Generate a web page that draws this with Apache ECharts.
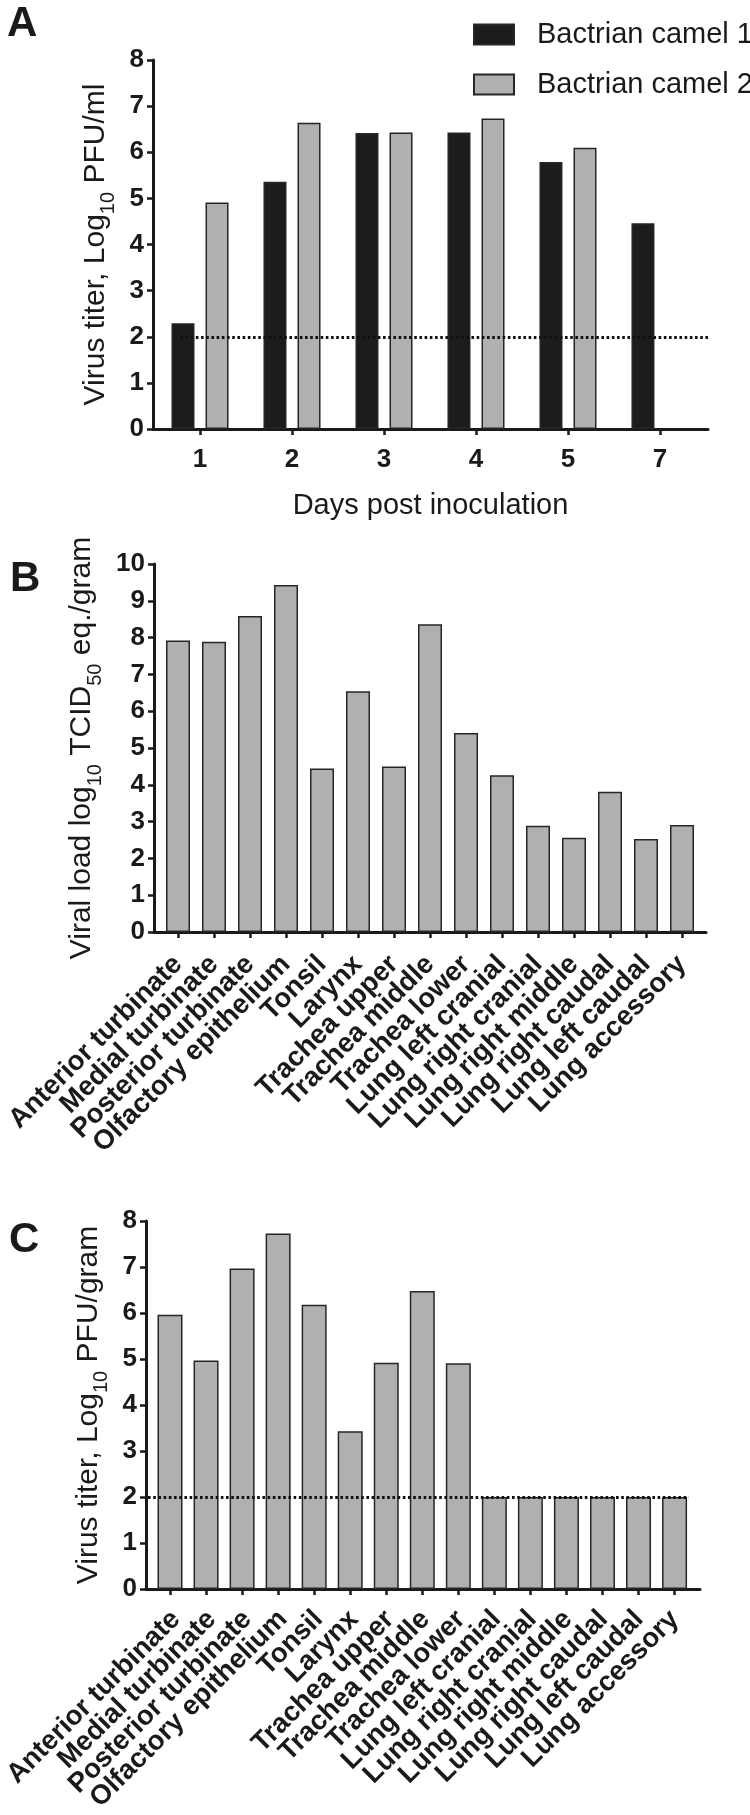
<!DOCTYPE html>
<html><head><meta charset="utf-8">
<script src="https://cdn.jsdelivr.net/npm/echarts@6/dist/echarts.min.js"></script>
<style>html,body{margin:0;padding:0;background:#fff}#c{width:750px;height:1815px}</style>
</head><body><div id="c"></div>
<script>
// ---- data ----
const days = ['1', '2', '3', '4', '5', '7'];
const camel1 = [2.29, 5.36, 6.42, 6.43, 5.79, 4.46];
const camel2 = [4.91, 6.64, 6.43, 6.73, 6.10, null];
const tissues = ['Anterior turbinate', 'Medial turbinate', 'Posterior turbinate', 'Olfactory epithelium',
  'Tonsil', 'Larynx', 'Trachea upper', 'Trachea middle', 'Trachea lower', 'Lung left cranial',
  'Lung right cranial', 'Lung right middle', 'Lung right caudal', 'Lung left caudal', 'Lung accessory'];
const viralLoadB = [7.92, 7.89, 8.59, 9.43, 4.44, 6.54, 4.50, 8.36, 5.41, 4.26, 2.89, 2.56, 3.81, 2.53, 2.91];
const titerC = [5.96, 4.97, 6.97, 7.73, 6.18, 3.43, 4.92, 6.48, 4.91, 2.0, 2.0, 2.0, 2.0, 2.0, 2.0];
const detectionLimit = 2;
const panelLetters = ['A', 'B', 'C'];

// ---- styles ----
const FONT = '"Liberation Sans", Arial, sans-serif';
const INK = '#1a1a1a';
const GRAY = '#b0b0b0';
const idx = a => a.map((_, i) => i);
const toPairs = a => a.map((v, i) => [i, v]).filter(p => p[1] != null);

const rich = {
  a: { fontFamily: FONT, fontSize: 30, color: INK },
  s: { fontFamily: FONT, fontSize: 20, color: INK, padding: [26, 0, 0, 0] }
};

function yAxis(g, max, name, nameGap) {
  return {
    type: 'value', gridIndex: g, min: 0, max: max, interval: 1,
    name: name, nameLocation: 'middle', nameGap: nameGap, nameRotate: 90,
    nameTextStyle: { rich: rich },
    axisLine: { show: true, onZero: false, lineStyle: { color: INK, width: 3 } },
    axisTick: { show: true, length: 6, lineStyle: { color: INK, width: 2.5 } },
    axisLabel: { fontFamily: FONT, fontWeight: 'bold', fontSize: 26, color: INK, margin: 9 },
    splitLine: { show: false }
  };
}
// value axis carrying the axis line, ticks (and optionally labels)
function valX(g, min, max, cats, showLabels, extra) {
  return Object.assign({
    type: 'value', gridIndex: g, min: min, max: max,
    axisLine: { show: true, onZero: false, lineStyle: { color: INK, width: 3 } },
    axisTick: { show: true, length: 6, customValues: idx(cats), lineStyle: { color: INK, width: 2.5 } },
    axisLabel: {
      show: showLabels, customValues: idx(cats), formatter: v => cats[Math.round(v)],
      fontFamily: FONT, fontWeight: 'bold', fontSize: 26, color: INK, margin: 18
    },
    splitLine: { show: false }
  }, extra || {});
}
// category axis that only carries the rotated tissue labels
function labelX(g) {
  return {
    type: 'category', gridIndex: g, data: tissues, boundaryGap: true,
    axisLine: { show: false }, axisTick: { show: false }, splitLine: { show: false },
    axisLabel: { interval: 0, rotate: 45, fontFamily: FONT, fontWeight: 'bold', fontSize: 27.5, color: INK, margin: 28 }
  };
}
const hiddenY = g => ({ type: 'value', gridIndex: g, show: false, min: 0, max: 1 });
const dotted = (x0, x1) => ({
  silent: true, symbol: 'none', z: 10,
  label: { show: false },
  lineStyle: { type: [2.6, 2.6], color: '#111', width: 2.8 },
  data: [[{ coord: [x0, detectionLimit] }, { coord: [x1, detectionLimit] }]]
});
const barStyle = c => ({ color: c, borderColor: '#262626', borderWidth: 1.5 });

const option = {
  backgroundColor: '#fff',
  animation: false,
  title: [
    { text: panelLetters[0], left: 2, top: -2 },
    { text: panelLetters[1], left: 5, top: 553 },
    { text: panelLetters[2], left: 4, top: 1214 }
  ].map(t => Object.assign(t, { textStyle: { fontFamily: FONT, fontWeight: 'bold', fontSize: 42, color: INK } })),
  legend: {
    left: 468, top: 15, orient: 'vertical', itemWidth: 40, itemHeight: 20, itemGap: 21,
    icon: 'rect',
    textStyle: { fontFamily: FONT, fontSize: 29, color: INK, padding: [0, 0, 0, 18] },
    data: ['Bactrian camel 1', 'Bactrian camel 2']
  },
  grid: [
    { left: 153, width: 555, top: 60, height: 369 },
    { left: 154, width: 552, top: 564, height: 368 },
    { left: 146, width: 554, top: 1221, height: 368 },
    { left: 160, width: 540, top: 564, height: 368 },
    { left: 152, width: 540.6, top: 1221, height: 368 }
  ],
  xAxis: [
    valX(0, -0.511, 5.522, days, true, { name: 'Days post inoculation', nameLocation: 'middle', nameGap: 62,
      nameTextStyle: { fontFamily: FONT, fontSize: 29, color: INK } }),
    valX(1, -0.667, 14.667, tissues, false),
    valX(2, -0.666, 14.706, tissues, false),
    labelX(3),
    labelX(4)
  ],
  yAxis: [
    yAxis(0, 8, '{a|Virus titer, Log}{s|10}{a| PFU/ml}', 30),
    yAxis(1, 10, '{a|Viral load log}{s|10}{a| TCID}{s|50}{a| eq./gram}', 38),
    yAxis(2, 8, '{a|Virus titer, Log}{s|10}{a| PFU/gram}', 30),
    hiddenY(3),
    hiddenY(4)
  ],
  series: [
    { name: 'Bactrian camel 1', type: 'bar', xAxisIndex: 0, yAxisIndex: 0, barWidth: 23, barGap: '48%',
      itemStyle: barStyle('#1c1c1c'), data: toPairs(camel1) },
    { name: 'Bactrian camel 2', type: 'bar', xAxisIndex: 0, yAxisIndex: 0, barWidth: 23, barGap: '48%',
      itemStyle: barStyle(GRAY), data: toPairs(camel2), markLine: dotted(-0.40, 5.34) },
    { name: 'B', type: 'bar', xAxisIndex: 1, yAxisIndex: 1, barWidth: 24,
      itemStyle: barStyle(GRAY), data: toPairs(viralLoadB) },
    { name: 'C', type: 'bar', xAxisIndex: 2, yAxisIndex: 2, barWidth: 25,
      itemStyle: barStyle(GRAY), data: toPairs(titerC), markLine: dotted(-0.61, 14.4) }
  ]
};
echarts.init(document.getElementById('c'), null, { renderer: 'canvas' }).setOption(option);
</script></body></html>
